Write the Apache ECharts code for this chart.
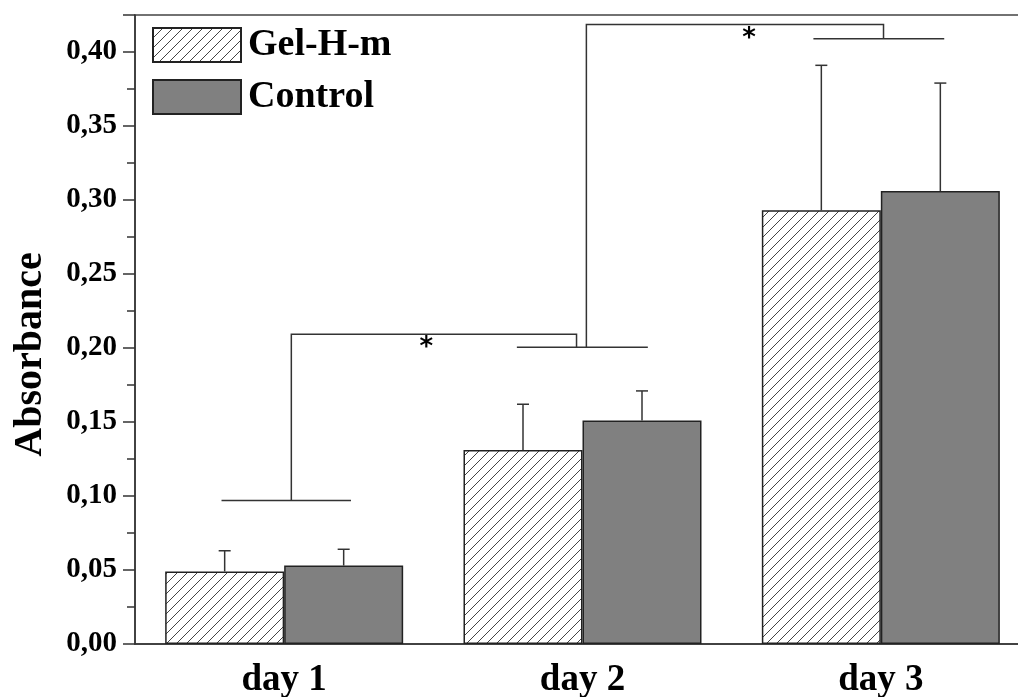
<!DOCTYPE html>
<html>
<head>
<meta charset="utf-8">
<script src="https://cdn.jsdelivr.net/npm/echarts@6/dist/echarts.min.js"></script>
<style>
  html, body { margin: 0; padding: 0; background: #fff; }
  #chart { width: 1018px; height: 697px; }
</style>
</head>
<body>
<div id="chart"></div>
<script>
// 数据
const days = ['day 1', 'day 2', 'day 3']
const dayPos = [1, 2, 3]
const gelValues = [0.049, 0.131, 0.293]
const gelErrTop = [0.063, 0.162, 0.391]
const controlValues = [0.053, 0.151, 0.306]
const controlErrTop = [0.064, 0.171, 0.379]

// 显著性标记 (x0, x1, y) 组内横线
const groupLines = [
  [0.79, 1.224, 0.097],
  [1.78, 2.219, 0.2005],
  [2.774, 3.2125, 0.409]
]
// 连接括号 (xL, yL, xR, yR, top)
const sigBrackets = [
  [1.024, 0.097, 1.98, 0.2005, 0.2093],
  [2.013, 0.2005, 3.009, 0.409, 0.4185]
]
const starMarks = [
  [1.476, 0.204],
  [2.558, 0.413]
]

const serif = '"Liberation Serif", "Times New Roman", serif'
const barW = 119
const lineColor = '#333'

// 斜线填充
function hatch() {
  const c = document.createElement('canvas')
  c.width = 10
  c.height = 10
  const ctx = c.getContext('2d')
  ctx.fillStyle = '#fff'
  ctx.fillRect(0, 0, 10, 10)
  ctx.strokeStyle = '#444'
  ctx.lineWidth = 1
  ctx.beginPath()
  ctx.moveTo(-1, 11); ctx.lineTo(11, -1)
  ctx.moveTo(-1, 1); ctx.lineTo(1, -1)
  ctx.moveTo(9, 11); ctx.lineTo(11, 9)
  ctx.stroke()
  return { image: c, repeat: 'repeat' }
}

const chart = echarts.init(document.getElementById('chart'))

function errSeries(values, tops, side) {
  return {
    type: 'custom',
    silent: true,
    z: 5,
    data: dayPos.map((d, i) => [d, values[i], tops[i]]),
    renderItem: function (params, api) {
      const base = api.coord([api.value(0), api.value(1)])
      const top = api.coord([api.value(0), api.value(2)])
      const x = base[0] + side * barW / 2
      return {
        type: 'group',
        children: [
          { type: 'line', shape: { x1: x, y1: base[1], x2: x, y2: top[1] }, style: { stroke: lineColor, lineWidth: 1.5 } },
          { type: 'line', shape: { x1: x - 6, y1: top[1], x2: x + 6, y2: top[1] }, style: { stroke: lineColor, lineWidth: 1.5 } }
        ]
      }
    }
  }
}

const option = {
  animation: false,
  backgroundColor: '#fff',
  grid: {
    left: 135,
    top: 15,
    width: 895,
    height: 629,
    outerBoundsMode: 'none',
    containLabel: false,
    show: true,
    borderColor: '#444',
    borderWidth: 1.5
  },
  legend: {
    orient: 'vertical',
    left: 152,
    top: 26,
    padding: 0,
    itemWidth: 88,
    itemHeight: 34,
    itemGap: 14,
    icon: 'rect',
    textStyle: { fontFamily: serif, fontWeight: 'bold', fontSize: 38, color: '#000', padding: [0, 0, 0, 2] },
    data: ['Gel-H-m', 'Control']
  },
  xAxis: {
    type: 'value',
    min: 0.5,
    max: 3.5,
    interval: 0.5,
    splitLine: { show: false },
    axisTick: { show: false },
    axisLine: { lineStyle: { color: '#333', width: 1.5 } },
    axisLabel: {
      margin: 18,
      fontFamily: serif,
      fontWeight: 'bold',
      fontSize: 37,
      color: '#000',
      formatter: function (v) {
        const i = dayPos.indexOf(v)
        return i >= 0 ? days[i] : ''
      }
    }
  },
  yAxis: {
    type: 'value',
    min: 0,
    max: 0.425,
    interval: 0.05,
    name: 'Absorbance',
    nameLocation: 'middle',
    nameGap: 84,
    nameTextStyle: { fontFamily: serif, fontWeight: 'bold', fontSize: 40, color: '#000', padding: [0, 50, 0, 0] },
    splitLine: { show: false },
    axisLine: { show: true, lineStyle: { color: '#333', width: 1.5 } },
    axisTick: { show: true, inside: false, length: 12, lineStyle: { color: '#333', width: 1.5 } },
    minorTick: { show: true, splitNumber: 2, length: 8, lineStyle: { color: '#333', width: 1.5 } },
    axisLabel: {
      showMaxLabel: false,
      margin: 18,
      fontFamily: serif,
      fontWeight: 'bold',
      fontSize: 29,
      color: '#000',
      formatter: v => v.toFixed(2).replace('.', ',')
    }
  },
  series: [
    {
      name: 'Gel-H-m',
      type: 'bar',
      barWidth: barW,
      barGap: '0%',
      data: dayPos.map((d, i) => [d, gelValues[i]]),
      itemStyle: { color: hatch(), borderColor: '#222', borderWidth: 1.5 }
    },
    {
      name: 'Control',
      type: 'bar',
      barWidth: barW,
      barGap: '0%',
      data: dayPos.map((d, i) => [d, controlValues[i]]),
      itemStyle: { color: '#808080', borderColor: '#222', borderWidth: 1.5 }
    },
    errSeries(gelValues, gelErrTop, -1),
    errSeries(controlValues, controlErrTop, 1),
    {
      type: 'custom',
      silent: true,
      z: 5,
      data: [0],
      renderItem: function (params, api) {
        const children = []
        groupLines.forEach(g => {
          const a = api.coord([g[0], g[2]])
          const b = api.coord([g[1], g[2]])
          children.push({ type: 'line', shape: { x1: a[0], y1: a[1], x2: b[0], y2: b[1] }, style: { stroke: lineColor, lineWidth: 1.5 } })
        })
        sigBrackets.forEach(s => {
          const p1 = api.coord([s[0], s[1]])
          const p2 = api.coord([s[0], s[4]])
          const p3 = api.coord([s[2], s[4]])
          const p4 = api.coord([s[2], s[3]])
          children.push({ type: 'polyline', shape: { points: [p1, p2, p3, p4] }, style: { stroke: lineColor, lineWidth: 1.5, fill: null } })
        })
        starMarks.forEach(m => {
          const p = api.coord(m)
          children.push({ type: 'text', x: p[0], y: p[1] + 6, style: { text: '*', fontFamily: '"DejaVu Sans", sans-serif', fontWeight: 'bold', fontSize: 26, fill: '#000', align: 'center', verticalAlign: 'middle' } })
        })
        return { type: 'group', children: children }
      }
    }
  ]
}

chart.setOption(option)
</script>
</body>
</html>
